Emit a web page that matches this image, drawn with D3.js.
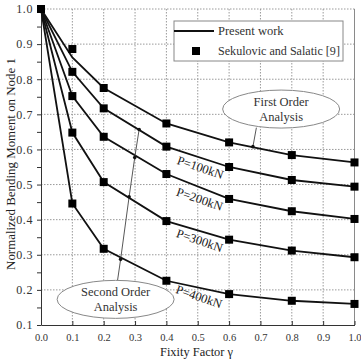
<!DOCTYPE html>
<html>
<head>
<meta charset="utf-8">
<script src="https://cdn.jsdelivr.net/npm/d3@7"></script>
<style>
  body { margin: 0; background: #fff; }
  svg { display: block; }
  svg text { font-family: "Liberation Serif", "DejaVu Serif", serif; }
</style>
</head>
<body>
<svg id="chart" width="361" height="360" font-family="Liberation Serif"></svg>
<script>
/* Data. */
const gammaLine = [0, 0.1, 0.2, 0.4, 0.6, 0.8, 1.0]
const gammaMarks = [0, 0.1, 0.2, 0.4, 0.6, 0.8, 1.0]

/* Present work (lines). */
const presentFirst = [1.0, 0.862, 0.775, 0.674, 0.620, 0.584, 0.563]
const present100 = [1.0, 0.821, 0.717, 0.608, 0.550, 0.513, 0.494]
const present200 = [1.0, 0.752, 0.636, 0.530, 0.459, 0.424, 0.402]
const present300 = [1.0, 0.648, 0.507, 0.396, 0.343, 0.312, 0.293]
const present400 = [1.0, 0.446, 0.317, 0.226, 0.188, 0.169, 0.160]

/* Sekulovic and Salatic [9] (markers). */
const sekFirst = [1.0, 0.886, 0.775, 0.674, 0.620, 0.584, 0.563]
const sek100 = [1.0, 0.821, 0.717, 0.608, 0.550, 0.513, 0.494]
const sek200 = [1.0, 0.752, 0.636, 0.530, 0.459, 0.424, 0.402]
const sek300 = [1.0, 0.648, 0.507, 0.396, 0.343, 0.312, 0.293]
const sek400 = [1.0, 0.446, 0.317, 0.226, 0.188, 0.169, 0.160]

/* Load labels and where they sit (data units). */
const loadLabels = ["P=100kN", "P=200kN", "P=300kN", "P=400kN"]
const loadLabelX = [0.508, 0.506, 0.506, 0.504]
const loadLabelY = [0.548, 0.458, 0.340, 0.180]

/* Annotation points (data units). */
const secondOrderPath = [[0.244, 0.226], [0.254, 0.287], [0.281, 0.465], [0.299, 0.577], [0.313, 0.657]]
const firstOrderPath = [[0.687, 0.662], [0.676, 0.608]]

/* Tick labels. */
const xTicks = [0, 0.1, 0.2, 0.3, 0.4, 0.5, 0.6, 0.7, 0.8, 0.9, 1.0]
const yTicks = [0.1, 0.2, 0.3, 0.4, 0.5, 0.6, 0.7, 0.8, 0.9, 1.0]

const svg = d3.select("#chart")

/* Shrink or grow a text so it spans the width seen in the picture. */
const fitText = (sel, target, base) => {
  const len = sel.node().getComputedTextLength()
  if (len > 0) sel.attr("font-size", base * target / len)
}

/* Plot box. */
const plotLeft = 41, plotRight = 354.5, plotTop = 9, plotBottom = 325

const x = d3.scaleLinear().domain([0, 1]).range([plotLeft, plotRight])
const y = d3.scaleLinear().domain([0.1, 1.0]).range([plotBottom, plotTop])

/* Grid. */
svg.append("g")
  .selectAll("line")
  .data(xTicks.slice(1, -1))
  .join("line")
  .attr("x1", d => x(d)).attr("x2", d => x(d))
  .attr("y1", plotTop).attr("y2", plotBottom)
  .attr("stroke", "#9a9a9a")
  .attr("stroke-dasharray", "1.5,1.5")

svg.append("g")
  .selectAll("line")
  .data(yTicks.slice(1))
  .join("line")
  .attr("x1", plotLeft).attr("x2", plotRight)
  .attr("y1", d => y(d)).attr("y2", d => y(d))
  .attr("stroke", "#9a9a9a")
  .attr("stroke-dasharray", "1.5,1.5")

/* Right border. */
svg.append("line")
  .attr("x1", plotRight).attr("x2", plotRight)
  .attr("y1", plotTop).attr("y2", plotBottom)
  .attr("stroke", "#8a8a8a")

/* Axes. */
const xAxis = d3.axisBottom(x)
  .tickValues(xTicks)
  .tickFormat(d3.format(".1f"))
  .tickSizeInner(-4)
  .tickSizeOuter(0)
  .tickPadding(9)

const gx = svg.append("g")
  .attr("transform", `translate(0,${plotBottom})`)
  .call(xAxis)
  .attr("font-family", null)
gx.select(".domain").attr("stroke", "#333")
gx.selectAll(".tick line").attr("stroke", "#333")
gx.selectAll("text")
  .attr("font-size", 10.5)
  .attr("fill", "#333")

const yMinor = d3.range(0.15, 1.0, 0.1)
svg.append("g")
  .attr("transform", `translate(${plotLeft},0)`)
  .call(d3.axisLeft(y).tickValues(yMinor).tickSize(4).tickFormat(""))
  .call(g => g.select(".domain").remove())
  .selectAll("line").attr("stroke", "#333")

const gy = svg.append("g")
  .attr("transform", `translate(${plotLeft},0)`)
  .call(d3.axisLeft(y)
    .tickValues(yTicks)
    .tickFormat(d3.format(".1f"))
    .tickSizeInner(4)
    .tickSizeOuter(0)
    .tickPadding(4))
  .attr("font-family", null)
gy.select(".domain").attr("stroke", "#333")
gy.selectAll(".tick line").attr("stroke", "#333")
gy.selectAll("text")
  .attr("font-size", 12)
  .attr("letter-spacing", 0.6)
  .attr("fill", "#333")

/* Axis titles. */
svg.append("text")
  .attr("x", 196.5)
  .attr("y", 356)
  .attr("text-anchor", "middle")
  .attr("font-size", 13)
  .attr("fill", "#222")
  .text("Fixity Factor γ")
  .call(s => fitText(s, 73, 13))

svg.append("text")
  .attr("transform", "translate(15,164) rotate(-90)")
  .attr("text-anchor", "middle")
  .attr("font-size", 13)
  .attr("fill", "#222")
  .text("Normalized Bending Moment on Node 1")
  .call(s => fitText(s, 212, 13))

/* Lines. */
const lineSeries = [presentFirst, present100, present200, present300, present400]
const markSeries = [sekFirst, sek100, sek200, sek300, sek400]

const line = d3.line()
  .x((d, i) => x(gammaLine[i]))
  .y(d => y(d))

svg.append("g")
  .selectAll("path")
  .data(lineSeries)
  .join("path")
  .attr("d", d => line(d))
  .attr("fill", "none")
  .attr("stroke", "#111")
  .attr("stroke-width", 1.8)

/* Markers. */
const ms = 8
svg.append("g")
  .selectAll("g")
  .data(markSeries)
  .join("g")
  .selectAll("rect")
  .data(d => d.map((v, i) => [gammaMarks[i], v]))
  .join("rect")
  .attr("x", d => x(d[0]) - ms / 2)
  .attr("y", d => y(d[1]) - ms / 2)
  .attr("width", ms)
  .attr("height", ms)
  .attr("fill", "#000")

/* Load labels. */
svg.append("g")
  .selectAll("text")
  .data(loadLabels)
  .join("text")
  .attr("transform", (d, i) => `translate(${x(loadLabelX[i])},${y(loadLabelY[i])}) rotate(19)`)
  .attr("text-anchor", "middle")
  .attr("dominant-baseline", "central")
  .attr("font-size", 12.5)
  .attr("fill", "#222")
  .text(d => d)

/* Annotations. */
const annLine = d3.line().x(d => x(d[0])).y(d => y(d[1]))

svg.append("path")
  .attr("d", annLine(secondOrderPath))
  .attr("fill", "none")
  .attr("stroke", "#444")
  .attr("stroke-width", 0.9)
svg.append("g")
  .selectAll("circle")
  .data(secondOrderPath.slice(1))
  .join("circle")
  .attr("cx", d => x(d[0])).attr("cy", d => y(d[1]))
  .attr("r", 1.8)
  .attr("fill", "#111")

svg.append("path")
  .attr("d", annLine(firstOrderPath))
  .attr("fill", "none")
  .attr("stroke", "#444")
  .attr("stroke-width", 0.9)
svg.append("circle")
  .attr("cx", x(firstOrderPath[1][0])).attr("cy", y(firstOrderPath[1][1]))
  .attr("r", 1.8)
  .attr("fill", "#111")

/* Ellipses. */
const bubbles = [
  { cx: 0.766, cy: 0.715, lines: ["First Order", "Analysis"] },
  { cx: 0.238, cy: 0.173, lines: ["Second Order", "Analysis"] }
]
const bub = svg.append("g")
  .selectAll("g")
  .data(bubbles)
  .join("g")
  .attr("transform", d => `translate(${x(d.cx)},${y(d.cy)})`)
bub.append("ellipse")
  .attr("rx", 58.5)
  .attr("ry", 19)
  .attr("fill", "#fff")
  .attr("stroke", "#888")
  .attr("stroke-width", 1)
bub.append("text")
  .attr("text-anchor", "middle")
  .attr("font-size", 12.5)
  .attr("fill", "#333")
  .selectAll("tspan")
  .data(d => d.lines)
  .join("tspan")
  .attr("x", 0)
  .attr("y", (d, i) => i === 0 ? -3 : 12)
  .text(d => d)

/* Legend. */
const lg = svg.append("g").attr("transform", "translate(174,21)")
lg.append("rect")
  .attr("width", 169)
  .attr("height", 40)
  .attr("fill", "#fff")
  .attr("stroke", "#888")
lg.append("line")
  .attr("x1", 0).attr("x2", 40)
  .attr("y1", 10).attr("y2", 10)
  .attr("stroke", "#111")
  .attr("stroke-width", 1.8)
lg.append("text")
  .attr("x", 44).attr("y", 14)
  .attr("font-size", 12.5)
  .attr("fill", "#333")
  .text("Present work")
lg.append("rect")
  .attr("x", 22 - ms / 2).attr("y", 30 - ms / 2)
  .attr("width", ms).attr("height", ms)
  .attr("fill", "#000")
lg.append("text")
  .attr("x", 44).attr("y", 34)
  .attr("font-size", 12.5)
  .attr("fill", "#333")
  .text("Sekulovic and Salatic [9]")
  .call(s => fitText(s, 122, 12.5))
</script>
</body>
</html>
